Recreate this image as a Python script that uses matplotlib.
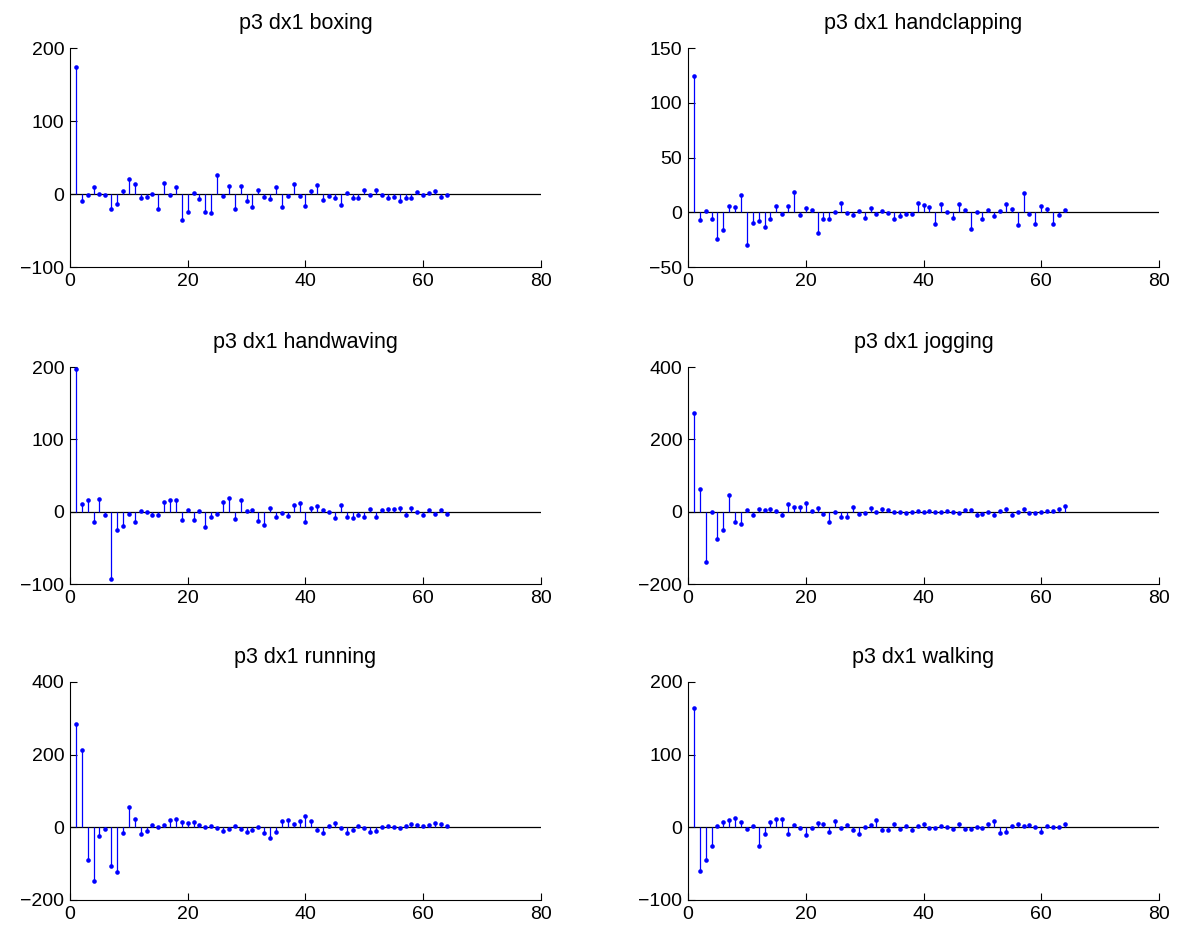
import numpy as np
import matplotlib.pyplot as plt

plt.rcParams['font.family'] = ['Liberation Sans', 'DejaVu Sans']

# coefficient index, 1..64
idx = np.arange(1, 65)

titles = ['p3 dx1 boxing', 'p3 dx1 handclapping', 'p3 dx1 handwaving',
          'p3 dx1 jogging', 'p3 dx1 running', 'p3 dx1 walking']

boxing = [174, -9.5, -2, 9, 0, -2, -20, -14, 4, 21, 14, -6, -4, 0, -21, 15,
          -2, 10, -36, -24, 2, -7, -25, -26, 26, -3, 11, -20, 11, -10, -18, 6,
          -4.5, -7, 9.5, -18, -3, 14, -3, -16, 4.5, 12.7, -8, -3, -5, -15, 2, -6,
          -6, 6, -2, 6, -2, -6, -4, -10, -5, -5, 3, -2, 1.4, 4, -4.5, -2]

handclapping = [124.7, -7.5, 1.2, -6.6, -24, -16.6, 6, 5, 16, -29.8, -10, -7.8, -13, -6.3, 5.7, -1.5,
                5.7, 18.4, -2.7, 3.6, 1.8, -18.7, -6, -6.6, 0.6, 8.4, -1, -2.7, 0.9, -5, 3.6, -1.8,
                0.9, -0.6, -6.6, -3.3, -2, -1.2, 8.4, 6.6, 4.8, -10.8, 7.2, 0.6, -5, 7.5, 1.8, -15.7,
                0.3, -6, 2.1, -3.6, 1.2, 7.2, 3.3, -12, 17.5, -1.2, -10.8, 5.7, 3.3, -10.8, -2.4, 1.8]

handwaving = [196.8, 10.5, 16.5, -13.8, 17, -5, -92.7, -25.7, -19.3, -2.8, -13.8, 0.9, 0, -4, -5, 13.8,
              16.5, 15.6, -11, 1.8, -11, 0.9, -20.6, -7.3, -3.2, 13.8, 18.3, -10, 15.6, 0.9, 2.8, -12.4,
              -18.8, 4.6, -7.8, -1.4, -5.5, 9.2, 11.5, -14.7, 4.6, 8.3, 2.8, -0.9, -8.3, 8.7, -7.8, -8.7,
              -4.1, -6.9, 4.1, -7.8, 2.8, 3.2, 3.2, 5, -5, 5, -0.5, -4.1, 1.8, -2.8, 2.8, -2.8]

jogging = [271.6, 62.4, -138.5, -0.9, -75.2, -51.4, 45.9, -28.4, -33.9, 3.7, -8.3, 7.3, 3.7, 8.3, 2.8, -8.3,
           21.1, 11.9, 13.8, 23.9, 2.8, 9.2, -7.3, -27.5, -0.9, -13.8, -13.8, 12.8, -7.3, -3.7, 9.2, -0.9,
           6.4, 5.5, -1.8, 0, -2.8, 0, 1.8, -0.9, 0.9, -1.8, -1.8, 2.8, -0.9, -3.7, 5.5, 3.7,
           -9.2, -5.5, -0.9, -9.2, 1.8, 6.4, -9.2, 0, 8.3, -3.7, -3.7, 0, 2.8, 1.8, 6.4, 14.7]

running = [283.5, 212.8, -89.9, -147.7, -22.9, -5.5, -107.3, -122.9, -14.7, 55, 22, -17.4, -9.2, 5.5, 1.8, 5.5,
           21.1, 22.9, 13.8, 12.8, 14.7, 6.4, 0.9, 2.8, -1.8, -9.2, -4.6, 4.6, -4.6, -13.8, -7.3, 0,
           -15.6, -30.3, -11.9, 17.4, 21.1, 10.1, 16.5, 30.3, 18.3, -7.3, -14.7, 2.8, 11.9, -1.8, -15.6, -8.3,
           2.8, -2.8, -11.9, -11, 0, 4.6, 0.9, -1.8, 4.6, 10.1, 7.3, 4.6, 7.3, 11, 8.3, 2.8]

walking = [164.7, -59.6, -45.4, -25.2, 2.3, 7.3, 10.1, 12.8, 7.3, -2.8, 2.3, -25.2, -8.7, 7.3, 11.5, 11.5,
           -8.7, 3.7, -0.9, -11, -0.9, 6.4, 4.1, -6.4, 8.3, -0.9, 2.8, -3.7, -9.2, 0.5, 2.8, 10.1,
           -4.1, -4.1, 4.1, -2.8, 1.8, -3.7, 1.4, 5, -1.4, -1.4, 2.3, 0, -1.8, 4.6, -2.3, -1.8,
           0.5, -0.5, 4.6, 8.7, -7.3, -6.4, 1.4, 5, 1.4, 2.8, 0.9, -6.4, 2.3, 0.9, 0.9, 4.6]

series = [boxing, handclapping, handwaving, jogging, running, walking]

ylims = [(-100, 200), (-50, 150), (-100, 200), (-200, 400), (-200, 400), (-100, 200)]
yticks = [[-100, 0, 100, 200], [-50, 0, 50, 100, 150], [-100, 0, 100, 200],
          [-200, 0, 200, 400], [-200, 0, 200, 400], [-100, 0, 100, 200]]
xticks = [0, 20, 40, 60, 80]


def draw_stem(ax, values, title, ylim, yt):
    # black baseline over the whole x range, like matlab
    ax.axhline(0, color='k', lw=0.9, zorder=1)
    ax.vlines(idx, 0, values, colors='b', lw=0.9, zorder=2)
    ax.plot(idx, values, 'o', color='b', ms=3.3, mew=0, zorder=3)
    ax.set_xlim(0, 80)
    ax.set_ylim(*ylim)
    ax.set_xticks(xticks)
    ax.set_yticks(yt)
    ax.spines['top'].set_visible(False)
    ax.spines['right'].set_visible(False)
    ax.spines['left'].set_linewidth(0.8)
    ax.spines['bottom'].set_linewidth(0.8)
    ax.tick_params(direction='in', length=5, width=0.8, labelsize=14, pad=4)
    ax.set_title(title, fontsize=15.5, pad=14)


def main():
    fig = plt.figure(figsize=(11.84, 9.31), dpi=100)
    lefts = [0.0591, 0.5811]
    bottoms = [0.7132, 0.3727, 0.0333]
    heights = [0.2352, 0.2331, 0.2342]
    for i in range(6):
        r, c = divmod(i, 2)
        ax = fig.add_axes([lefts[c], bottoms[r], 0.3978, heights[r]])
        draw_stem(ax, series[i], titles[i], ylims[i], yticks[i])
    fig.savefig('out.png', dpi=100)


if __name__ == '__main__':
    main()
